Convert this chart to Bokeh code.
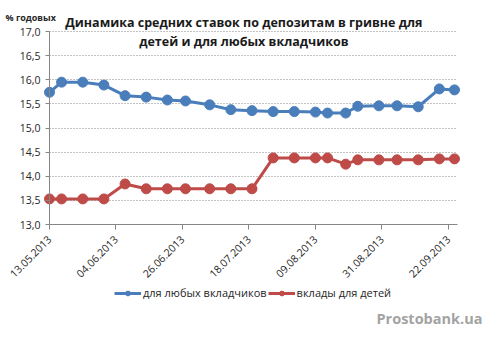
import pandas as pd
from bokeh.plotting import figure
from bokeh.models import Range1d, FixedTicker, DatetimeTickFormatter, Label, Legend, LegendItem
from bokeh.embed import file_html
from bokeh.resources import INLINE
from math import pi

dates = ["13.05.2013", "17.05.2013", "24.05.2013", "31.05.2013", "07.06.2013", "14.06.2013",
         "21.06.2013", "27.06.2013", "05.07.2013", "12.07.2013", "19.07.2013", "26.07.2013",
         "02.08.2013", "09.08.2013", "13.08.2013", "19.08.2013", "23.08.2013", "30.08.2013",
         "05.09.2013", "12.09.2013", "19.09.2013", "24.09.2013"]
any_depositors = [15.74, 15.95, 15.95, 15.89, 15.67, 15.64, 15.58, 15.56, 15.48, 15.38, 15.36,
                  15.34, 15.34, 15.33, 15.31, 15.31, 15.45, 15.46, 15.46, 15.44, 15.81, 15.79]
children = [13.53, 13.53, 13.53, 13.53, 13.84, 13.74, 13.74, 13.74, 13.74, 13.74, 13.74,
            14.38, 14.38, 14.38, 14.38, 14.25, 14.34, 14.34, 14.34, 14.34, 14.36, 14.36]
x_tick_dates = ["13.05.2013", "04.06.2013", "26.06.2013", "18.07.2013", "09.08.2013",
                "31.08.2013", "22.09.2013"]
y_ticks = [13.0, 13.5, 14.0, 14.5, 15.0, 15.5, 16.0, 16.5, 17.0]
y_tick_labels = ["13,0", "13,5", "14,0", "14,5", "15,0", "15,5", "16,0", "16,5", "17,0"]
series_names = ["для любых вкладчиков", "вклады для детей"]
title_lines = ["Динамика средних ставок по  депозитам в гривне для", "детей  и для любых вкладчиков"]
y_unit = "% годовых"
watermark = "Prostobank.ua"
axis_first_date = "13.05.2013"
axis_last_date = "25.09.2013"
y_min, y_max = 13.0, 17.0

W, H = 493, 340
# plot-area placement on the page (pixels)
PL, PR, PT, PB = 49, 457, 31, 224

def ms(s):
    return pd.Timestamp(pd.to_datetime(s, format="%d.%m.%Y")).value / 1e6

xs = [pd.to_datetime(d, format="%d.%m.%Y") for d in dates]
x_start = ms(axis_first_date)
x_end = ms(axis_last_date)
px_x = (x_end - x_start) / (PR - PL)
px_y = (y_max - y_min) / (PB - PT)

FONT = "Open Sans"
BLUE = "#4A7EBB"
RED = "#BE4B48"
TXT = "#262626"
GRID = "#868686"

p = figure(width=W, height=H, x_axis_type="datetime", output_backend="svg",
           toolbar_location=None,
           x_range=Range1d(x_start - PL * px_x, x_end + (W - PR) * px_x),
           y_range=Range1d(y_min - (H - PB) * px_y, y_max + PT * px_y),
           min_border_left=0, min_border_right=0, min_border_top=0, min_border_bottom=0)
p.outline_line_color = None
p.background_fill_color = "white"
p.border_fill_color = "white"

p.xgrid.visible = False
p.ygrid.ticker = FixedTicker(ticks=y_ticks)
p.ygrid.grid_line_color = GRID
p.ygrid.grid_line_dash = "1 2"
p.ygrid.grid_line_width = 1
try:
    p.ygrid.cross_bounds = (x_start, x_end)
except Exception:
    p.ygrid.visible = False
    p.segment(x0=[x_start] * len(y_ticks), y0=y_ticks, x1=[x_end] * len(y_ticks), y1=y_ticks,
              line_color=GRID, line_dash="1 2", line_width=1)

yax = p.yaxis[0]
yax.fixed_location = x_start
yax.bounds = (y_min, y_max)
yax.ticker = FixedTicker(ticks=y_ticks)
yax.major_label_overrides = {t: l for t, l in zip(y_ticks, y_tick_labels)}
yax.axis_line_color = GRID
yax.major_tick_line_color = GRID
yax.major_tick_out = 4
yax.major_tick_in = 0
yax.minor_tick_line_color = None
yax.major_label_text_font = FONT
yax.major_label_text_font_size = "10.5px"
yax.major_label_text_color = TXT
yax.major_label_standoff = 5

xax = p.xaxis[0]
xax.fixed_location = y_min
xax.bounds = (x_start, x_end)
xax.ticker = FixedTicker(ticks=[ms(d) for d in x_tick_dates])
xax.formatter = DatetimeTickFormatter(days="%d.%m.%Y", months="%d.%m.%Y", years="%d.%m.%Y",
                                      hours="%d.%m.%Y")
xax.major_label_orientation = pi / 4
xax.axis_line_color = GRID
xax.major_tick_line_color = GRID
xax.major_tick_out = 5
xax.major_tick_in = 0
xax.minor_tick_line_color = None
xax.major_label_text_font = FONT
xax.major_label_text_font_size = "10.5px"
xax.major_label_text_color = TXT
xax.major_label_standoff = 8

l1 = p.line(xs, any_depositors, line_color=BLUE, line_width=3)
s1 = p.scatter(xs, any_depositors, size=10, fill_color=BLUE, line_color=BLUE)
l2 = p.line(xs, children, line_color=RED, line_width=3)
s2 = p.scatter(xs, children, size=10, fill_color=RED, line_color=RED)

legend = Legend(items=[LegendItem(label=series_names[0], renderers=[l1, s1]),
                       LegendItem(label=series_names[1], renderers=[l2, s2])],
                orientation="horizontal", location=(114, 40),
                label_text_font=FONT, label_text_font_size="11px", label_text_color=TXT,
                glyph_width=27, glyph_height=12, spacing=1, padding=0, margin=0,
                label_standoff=2, border_line_color=None, background_fill_alpha=0)
p.add_layout(legend, "center")

def lab(x, y_from_top, text, size, align, color, bold=True):
    p.add_layout(Label(x=x, y=H - y_from_top, x_units="screen", y_units="screen", text=text,
                       text_align=align, text_baseline="middle", text_font=FONT,
                       text_font_size=size, text_font_style="bold" if bold else "normal",
                       text_color=color))

lab(245, 22, title_lines[0], "12.5px", "center", "#1a1a1a")
lab(245, 41, title_lines[1], "12.5px", "center", "#1a1a1a")
lab(5, 17, y_unit, "9px", "left", TXT)
lab(482, 318, watermark, "14.5px", "right", "#a3a3a3")

open("out.html", "w").write(file_html(p, INLINE))
